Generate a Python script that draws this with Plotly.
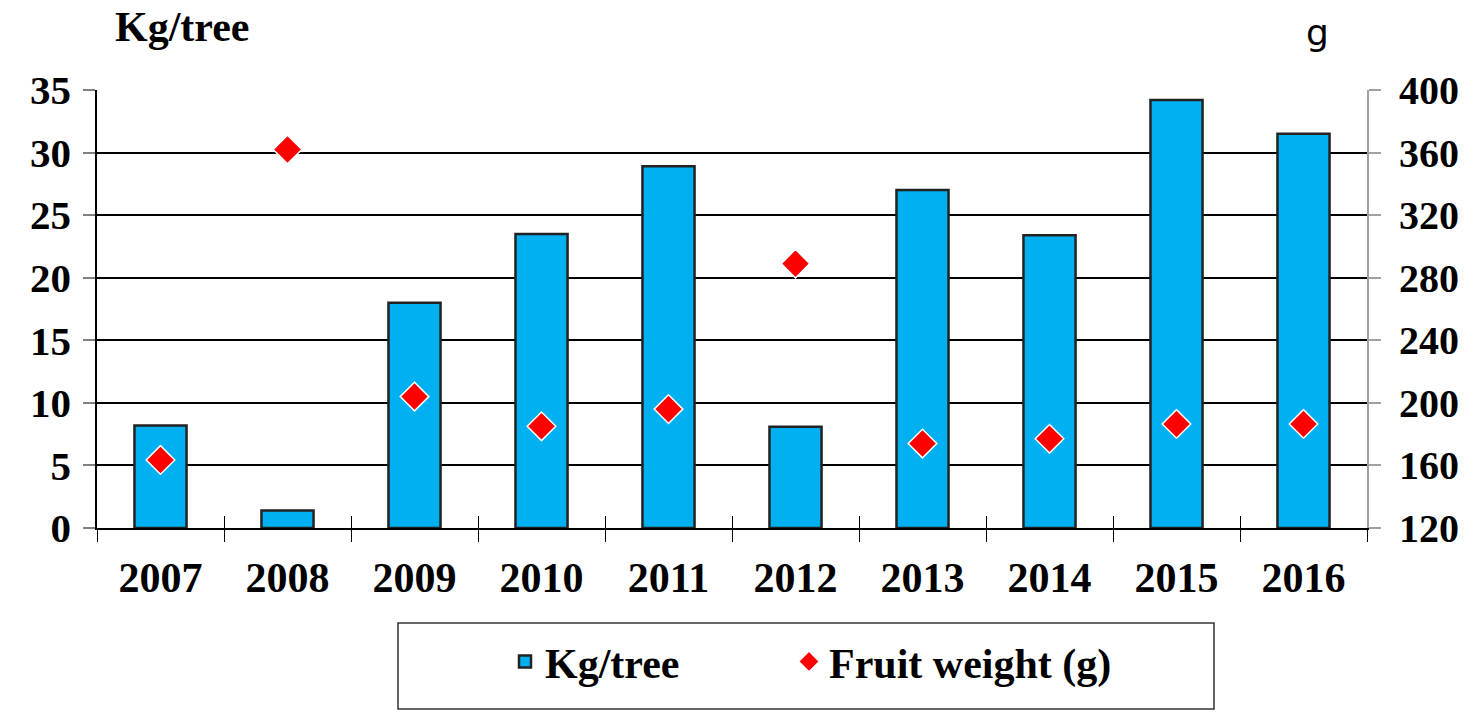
import plotly.graph_objects as go

years = ["2007", "2008", "2009", "2010", "2011", "2012", "2013", "2014", "2015", "2016"]
kg_tree = [8.2, 1.4, 18.0, 23.5, 28.9, 8.1, 27.0, 23.4, 34.2, 31.5]
fruit_weight = [163.5, 362, 204, 185, 196, 289, 174, 177, 186.5, 186.5]
left_ticks = [0, 5, 10, 15, 20, 25, 30, 35]
right_ticks = [120, 160, 200, 240, 280, 320, 360, 400]

FONT = "Liberation Serif"
W, H = 1480, 714


def px_x(p):
    return (p - 97) / 1270


def px_y(p):
    return (528 - p) / 438


fig = go.Figure()
fig.add_trace(go.Bar(
    x=years, y=kg_tree, name="Kg/tree", legend="legend",
    marker=dict(color="#00B0F0", line=dict(color="#222222", width=2.5)),
    yaxis="y", xaxis="x",
))
fig.add_trace(go.Scatter(
    x=years, y=fruit_weight, name="Fruit weight (g)", mode="markers",
    legend="legend2",
    marker=dict(symbol="diamond", color="#FF0000", size=22,
                line=dict(color="white", width=1.5)),
    yaxis="y2", xaxis="x",
))
# invisible helper trace on overlay axis for cross ticks
fig.add_trace(go.Scatter(x=[-0.5, 9.5], y=[0, 0], mode="markers",
                         marker=dict(opacity=0), showlegend=False,
                         hoverinfo="skip", xaxis="x2", yaxis="y"))

legend_common = dict(
    orientation="h", xref="container", yref="container",
    xanchor="left", y=0.121, yanchor="top",
    borderwidth=0, bgcolor="rgba(0,0,0,0)",
    font=dict(family=FONT, size=42, color="black", weight="bold"),
)

fig.update_layout(
    width=W, height=H,
    paper_bgcolor="white", plot_bgcolor="white",
    margin=dict(l=97, r=113, t=90, b=186),
    bargap=0.59,
    font=dict(family=FONT, size=40, color="black"),
    xaxis=dict(
        type="category", tickson="boundaries", ticks="outside", ticklen=12,
        tickcolor="black", tickwidth=1, showgrid=False, automargin=False,
        showline=True, linecolor="black", linewidth=1.5,
        tickfont=dict(family=FONT, size=42, color="black", weight="bold"),
        ticklabelstandoff=12,
        range=[-0.5, 9.5],
    ),
    xaxis2=dict(
        overlaying="x", range=[-0.5, 9.5], tickmode="array", automargin=False,
        tickvals=[i - 0.5 for i in range(11)], ticks="inside", ticklen=12,
        tickcolor="black", tickwidth=1, showticklabels=False, showgrid=False,
        showline=False, zeroline=False,
    ),
    yaxis=dict(
        range=[0, 35], tickmode="array", tickvals=left_ticks, automargin=False,
        showgrid=True, gridcolor="black", gridwidth=2,
        ticks="outside", ticklen=12, tickcolor="#808080", tickwidth=2,
        showline=True, linecolor="black", linewidth=1.5, zeroline=False,
        tickfont=dict(family=FONT, size=41, color="black", weight="bold"),
        ticklabelstandoff=4,
    ),
    yaxis2=dict(
        range=[120, 400], tickmode="array", tickvals=right_ticks, automargin=False,
        overlaying="y", side="right", showgrid=False, zeroline=False,
        ticks="outside", ticklen=12, tickcolor="#A0A0A0", tickwidth=2,
        showline=True, linecolor="#A0A0A0", linewidth=2,
        tickfont=dict(family=FONT, size=40, color="black", weight="bold"),
        ticklabelstandoff=10,
    ),
    legend=dict(legend_common, x=505 / W),
    legend2=dict(legend_common, x=789 / W),
    shapes=[
        dict(type="rect", xref="paper", yref="paper", layer="below",
             x0=px_x(398), x1=px_x(1214), y0=px_y(709), y1=px_y(623),
             line=dict(color="#333333", width=1.5), fillcolor="white"),
    ],
    annotations=[
        dict(text="<b>Kg/tree</b>", xref="paper", yref="paper",
             x=px_x(113), y=px_y(2),
             xanchor="left", yanchor="top", showarrow=False,
             font=dict(family=FONT, size=42, color="black")),
        dict(text="g", xref="paper", yref="paper",
             x=px_x(1317), y=px_y(10),
             xanchor="center", yanchor="top", showarrow=False,
             font=dict(family="DejaVu Sans", size=36, color="black")),
    ],
)

fig.write_html("out.html", config={"displayModeBar": False},
               post_script="document.body.style.margin='0';")
